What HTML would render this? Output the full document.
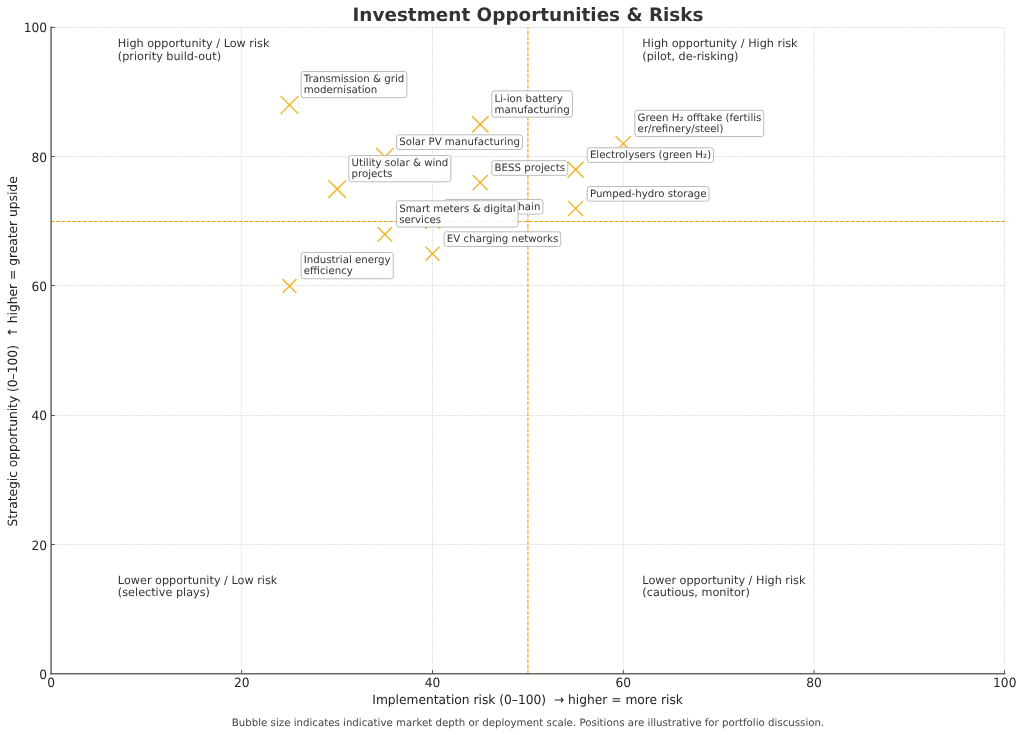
<!DOCTYPE html>
<html lang="en"><head><meta charset="utf-8"><title>Investment Opportunities &amp; Risks</title>
<style>html,body{margin:0;padding:0;background:#fff;}body{width:1024px;height:735px;overflow:hidden;}svg{display:block;}text{font-family:"DejaVu Sans", "Liberation Sans", sans-serif;text-rendering:geometricPrecision;white-space:pre;}</style></head><body>
<svg width="1024" height="735" viewBox="0 0 1024 735" role="img" aria-label="Investment Opportunities and Risks quadrant chart">
<rect x="0" y="0" width="1024" height="735" fill="#ffffff"/>
<g stroke="#d0d0d0" stroke-width="0.6" stroke-dasharray="2.27 0.98" fill="none">
<line x1="241.60" y1="673.75" x2="241.60" y2="27.15"/>
<line x1="432.50" y1="673.75" x2="432.50" y2="27.15"/>
<line x1="623.35" y1="673.75" x2="623.35" y2="27.15"/>
<line x1="814.05" y1="673.75" x2="814.05" y2="27.15"/>
<line x1="1004.45" y1="673.75" x2="1004.45" y2="27.15"/>
<line x1="51.10" y1="544.50" x2="1004.75" y2="544.50"/>
<line x1="51.10" y1="415.50" x2="1004.75" y2="415.50"/>
<line x1="51.10" y1="285.50" x2="1004.75" y2="285.50"/>
<line x1="51.10" y1="156.50" x2="1004.75" y2="156.50"/>
<line x1="51.10" y1="27.50" x2="1004.75" y2="27.50"/>
</g>
<g stroke="#E8A616" stroke-opacity="1" stroke-width="1.15" stroke-dasharray="3.95 1.42" fill="none">
<line x1="50.70" y1="221.50" x2="1004.75" y2="221.50" stroke-width="1.2"/>
<line x1="527.92" y1="673.75" x2="527.92" y2="27.15"/>
</g>
<g stroke="#EDB120" stroke-opacity="0.9" stroke-width="1.5" fill="none" stroke-linecap="butt">
<path d="M280.56 96.04 L298.46 113.94"/><path d="M280.56 113.94 L298.46 96.04"/>
<path d="M471.99 116.14 L488.49 132.64"/><path d="M471.99 132.64 L488.49 116.14"/>
<path d="M376.13 147.97 L393.63 165.47"/><path d="M376.13 165.47 L393.63 147.97"/>
<path d="M615.49 135.99 L631.09 151.59"/><path d="M615.49 151.59 L631.09 135.99"/>
<path d="M567.61 161.65 L583.61 177.65"/><path d="M567.61 177.65 L583.61 161.65"/>
<path d="M328.35 180.20 L346.05 197.90"/><path d="M328.35 197.90 L346.05 180.20"/>
<path d="M472.64 174.98 L487.84 190.18"/><path d="M472.64 190.18 L487.84 174.98"/>
<path d="M568.11 200.95 L583.11 215.95"/><path d="M568.11 215.95 L583.11 200.95"/>
<path d="M425.06 213.88 L440.06 228.88"/><path d="M425.06 228.88 L440.06 213.88"/>
<path d="M377.68 227.11 L392.08 241.51"/><path d="M377.68 241.51 L392.08 227.11"/>
<path d="M425.66 246.81 L439.46 260.61"/><path d="M425.66 260.61 L439.46 246.81"/>
<path d="M282.61 279.14 L296.41 292.94"/><path d="M282.61 292.94 L296.41 279.14"/>
</g>
<g stroke="#666666" stroke-width="1.5" fill="none" stroke-linecap="square">
<line x1="51.10" y1="27.15" x2="51.10" y2="673.75"/>
<line x1="51.10" y1="673.75" x2="1004.75" y2="673.75"/>
</g>
<g stroke="#444444" stroke-width="0.9" fill="none">
<line x1="241.60" y1="673.75" x2="241.60" y2="670.05"/>
<line x1="51.10" y1="544.50" x2="54.80" y2="544.50"/>
<line x1="432.50" y1="673.75" x2="432.50" y2="670.05"/>
<line x1="51.10" y1="415.50" x2="54.80" y2="415.50"/>
<line x1="623.35" y1="673.75" x2="623.35" y2="670.05"/>
<line x1="51.10" y1="285.50" x2="54.80" y2="285.50"/>
<line x1="814.05" y1="673.75" x2="814.05" y2="670.05"/>
<line x1="51.10" y1="156.50" x2="54.80" y2="156.50"/>
<line x1="1004.45" y1="673.75" x2="1004.45" y2="670.05"/>
<line x1="51.10" y1="27.50" x2="54.80" y2="27.50"/>
</g>
<text transform="translate(51.10 687.40) scale(1 1.040)" font-size="12.26" fill="#222222" text-anchor="middle" xml:space="preserve">0</text>
<text transform="translate(47.10 678.95) scale(1 1.040)" font-size="12.26" fill="#222222" text-anchor="end" xml:space="preserve">0</text>
<text transform="translate(241.83 687.40) scale(1 1.040)" font-size="12.26" fill="#222222" text-anchor="middle" xml:space="preserve">20</text>
<text transform="translate(47.10 549.63) scale(1 1.040)" font-size="12.26" fill="#222222" text-anchor="end" xml:space="preserve">20</text>
<text transform="translate(432.56 687.40) scale(1 1.040)" font-size="12.26" fill="#222222" text-anchor="middle" xml:space="preserve">40</text>
<text transform="translate(47.10 420.31) scale(1 1.040)" font-size="12.26" fill="#222222" text-anchor="end" xml:space="preserve">40</text>
<text transform="translate(623.29 687.40) scale(1 1.040)" font-size="12.26" fill="#222222" text-anchor="middle" xml:space="preserve">60</text>
<text transform="translate(47.10 290.99) scale(1 1.040)" font-size="12.26" fill="#222222" text-anchor="end" xml:space="preserve">60</text>
<text transform="translate(814.02 687.40) scale(1 1.040)" font-size="12.26" fill="#222222" text-anchor="middle" xml:space="preserve">80</text>
<text transform="translate(47.10 161.67) scale(1 1.040)" font-size="12.26" fill="#222222" text-anchor="end" xml:space="preserve">80</text>
<text transform="translate(1004.75 687.40) scale(1 1.040)" font-size="12.26" fill="#222222" text-anchor="middle" xml:space="preserve">100</text>
<text transform="translate(47.10 32.35) scale(1 1.040)" font-size="12.26" fill="#222222" text-anchor="end" xml:space="preserve">100</text>
<text transform="translate(527.60 704.00) scale(1 1.040)" font-size="12.26" fill="#222222" text-anchor="middle" xml:space="preserve">Implementation risk (0–100)  → higher = more risk</text>
<text transform="translate(17.00 351.40) rotate(-90) scale(1 1.040)" font-size="12.26" fill="#222222" text-anchor="middle" xml:space="preserve">Strategic opportunity (0–100)  ↑ higher = greater upside</text>
<text transform="translate(528.00 21.00)" font-size="18.40" fill="#333333" text-anchor="middle" font-weight="bold" xml:space="preserve">Investment Opportunities &amp; Risks</text>
<text transform="translate(528.00 725.70)" font-size="10.22" fill="#444444" text-anchor="middle" xml:space="preserve">Bubble size indicates indicative market depth or deployment scale. Positions are illustrative for portfolio discussion.</text>
<text transform="translate(117.86 46.88)" font-size="11.24" fill="#333333" xml:space="preserve">High opportunity / Low risk</text>
<text transform="translate(117.86 59.98)" font-size="11.24" fill="#333333" xml:space="preserve">(priority build-out)</text>
<text transform="translate(642.36 46.88)" font-size="11.24" fill="#333333" xml:space="preserve">High opportunity / High risk</text>
<text transform="translate(642.36 59.98)" font-size="11.24" fill="#333333" xml:space="preserve">(pilot, de-risking)</text>
<text transform="translate(117.86 583.56)" font-size="11.24" fill="#333333" xml:space="preserve">Lower opportunity / Low risk</text>
<text transform="translate(117.86 596.16)" font-size="11.24" fill="#333333" xml:space="preserve">(selective plays)</text>
<text transform="translate(642.36 583.56)" font-size="11.24" fill="#333333" xml:space="preserve">Lower opportunity / High risk</text>
<text transform="translate(642.36 596.16)" font-size="11.24" fill="#333333" xml:space="preserve">(cautious, monitor)</text>
<rect x="301.11" y="71.49" width="105.72" height="26.25" rx="2.40" ry="2.40" fill="#ffffff" fill-opacity="0.9" stroke="#bbbbbb" stroke-width="1"/>
<text transform="translate(303.81 82.00)" font-size="10.22" fill="#333333" xml:space="preserve">Transmission &amp; grid</text>
<text transform="translate(303.81 93.00)" font-size="10.22" fill="#333333" xml:space="preserve">modernisation</text>
<rect x="491.84" y="90.89" width="80.56" height="26.25" rx="2.40" ry="2.40" fill="#ffffff" fill-opacity="0.9" stroke="#bbbbbb" stroke-width="1"/>
<text transform="translate(494.54 102.00)" font-size="10.22" fill="#333333" xml:space="preserve">Li-ion battery</text>
<text transform="translate(494.54 113.00)" font-size="10.22" fill="#333333" xml:space="preserve">manufacturing</text>
<rect x="396.48" y="134.82" width="125.90" height="14.65" rx="2.40" ry="2.40" fill="#ffffff" fill-opacity="0.9" stroke="#bbbbbb" stroke-width="1"/>
<text transform="translate(399.18 145.00)" font-size="10.22" fill="#333333" xml:space="preserve">Solar PV manufacturing</text>
<rect x="634.89" y="110.29" width="128.84" height="26.25" rx="2.40" ry="2.40" fill="#ffffff" fill-opacity="0.9" stroke="#bbbbbb" stroke-width="1"/>
<text transform="translate(637.59 121.00)" font-size="10.22" fill="#333333" xml:space="preserve">Green H₂ offtake (fertilis</text>
<text transform="translate(637.59 132.00)" font-size="10.22" fill="#333333" xml:space="preserve">er/refinery/steel)</text>
<rect x="587.21" y="147.75" width="126.29" height="14.65" rx="2.40" ry="2.40" fill="#ffffff" fill-opacity="0.9" stroke="#bbbbbb" stroke-width="1"/>
<text transform="translate(589.91 158.00)" font-size="10.22" fill="#333333" xml:space="preserve">Electrolysers (green H₂)</text>
<rect x="348.80" y="155.55" width="102.06" height="26.25" rx="2.40" ry="2.40" fill="#ffffff" fill-opacity="0.9" stroke="#bbbbbb" stroke-width="1"/>
<text transform="translate(351.50 166.00)" font-size="10.22" fill="#333333" xml:space="preserve">Utility solar &amp; wind</text>
<text transform="translate(351.50 177.00)" font-size="10.22" fill="#333333" xml:space="preserve">projects</text>
<rect x="491.84" y="160.68" width="75.94" height="14.65" rx="2.40" ry="2.40" fill="#ffffff" fill-opacity="0.9" stroke="#bbbbbb" stroke-width="1"/>
<text transform="translate(494.54 171.00)" font-size="10.22" fill="#333333" xml:space="preserve">BESS projects</text>
<rect x="587.21" y="186.55" width="121.77" height="14.65" rx="2.40" ry="2.40" fill="#ffffff" fill-opacity="0.9" stroke="#bbbbbb" stroke-width="1"/>
<text transform="translate(589.91 197.00)" font-size="10.22" fill="#333333" xml:space="preserve">Pumped-hydro storage</text>
<rect x="444.16" y="199.48" width="98.79" height="14.65" rx="2.40" ry="2.40" fill="#ffffff" fill-opacity="0.9" stroke="#bbbbbb" stroke-width="1"/>
<text transform="translate(446.86 210.00)" font-size="10.22" fill="#333333" xml:space="preserve">Wind supply chain</text>
<rect x="396.48" y="200.81" width="121.55" height="26.25" rx="2.40" ry="2.40" fill="#ffffff" fill-opacity="0.9" stroke="#bbbbbb" stroke-width="1"/>
<text transform="translate(399.18 212.00)" font-size="10.22" fill="#333333" xml:space="preserve">Smart meters &amp; digital</text>
<text transform="translate(399.18 223.00)" font-size="10.22" fill="#333333" xml:space="preserve">services</text>
<rect x="444.16" y="231.81" width="116.58" height="14.65" rx="2.40" ry="2.40" fill="#ffffff" fill-opacity="0.9" stroke="#bbbbbb" stroke-width="1"/>
<text transform="translate(446.86 242.00)" font-size="10.22" fill="#333333" xml:space="preserve">EV charging networks</text>
<rect x="301.11" y="252.54" width="92.11" height="26.25" rx="2.40" ry="2.40" fill="#ffffff" fill-opacity="0.9" stroke="#bbbbbb" stroke-width="1"/>
<text transform="translate(303.81 263.00)" font-size="10.22" fill="#333333" xml:space="preserve">Industrial energy</text>
<text transform="translate(303.81 274.00)" font-size="10.22" fill="#333333" xml:space="preserve">efficiency</text>
</svg>
</body></html>
